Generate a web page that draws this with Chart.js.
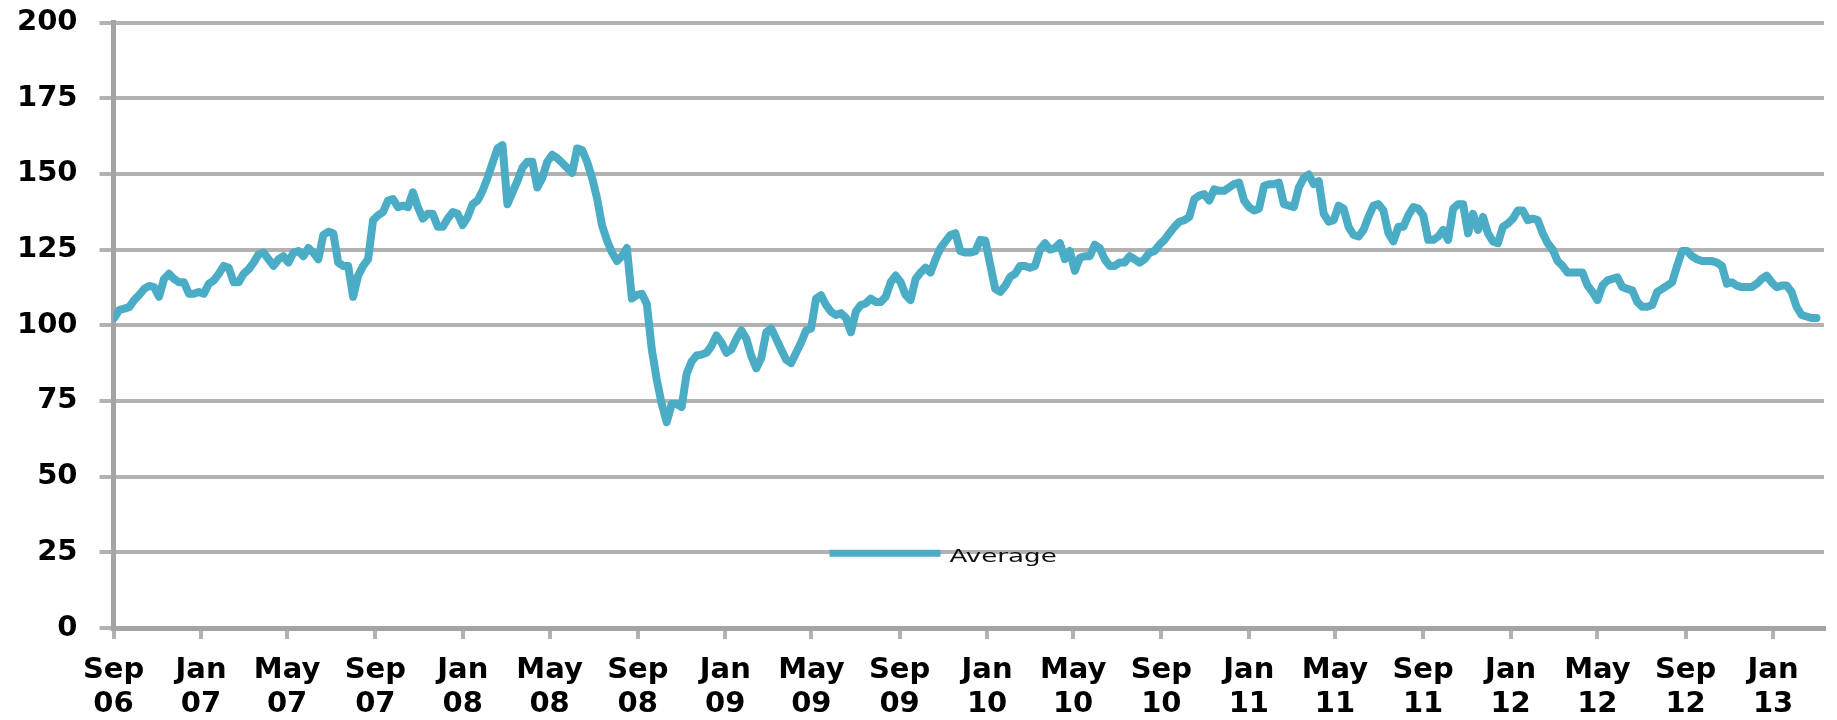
<!DOCTYPE html>
<html>
<head>
<meta charset="utf-8">
<script src="https://cdn.jsdelivr.net/npm/chart.js@4.4.1/dist/chart.umd.min.js"></script>
<style>
  html, body { margin: 0; padding: 0; background: #ffffff; }
  #wrap { width: 1837px; height: 720px; }
</style>
</head>
<body>
<div id="wrap"><canvas id="c" width="1837" height="720"></canvas></div>
<script>
// ---- Data (roughly one point per week) ----
const seriesName = 'Average';
const firstPointDate = '2006-09-02';   // first weekly observation
const daysPerPoint = 6.94;              // spacing of observations

const avgSep06toOct07 = [102.4,105,105.5,106,108.3,110,112,113,112.6,109.4,
  115.3,117,115.3,114.2,114.2,110.4,110.4,111,110.4,113.7,
  114.8,117,119.6,119,114.2,114.2,117,118.5,120.7,123.4,
  124,121.8,119.6,121.8,122.8,120.7,124,124.5,122.8,125.5,
  124,121.8,129.8,130.9,130.4,120.7,119.6,119.6,109.4,116.4,
  119.6,121.8,134.7,136.3,137.4,141.2,141.7,139,139.5];
const avgOct07toNov08 = [139,143.9,139,135.2,136.8,136.8,132.5,132.5,135.2,137.4,
  136.8,133.1,135.8,140,141.2,144.4,148.7,153.6,158.4,159.5,
  140,143.9,147.6,152,154,154,145.5,148.7,154,156.3,
  155.2,153.6,152,150.3,158.4,157.9,154,148.7,142,133,
  128,124,121.2,122.8,125.5,108.8,110,110.4,107,92,
  82,74,68,74,74,73,84,88];
const avgNov08toDec09 = [90,90.3,90.9,93.2,96.6,94.3,90.9,92,95.5,98.3,
  95.5,89.8,85.8,89.2,97.7,98.9,95.5,92,88.6,87.5,
  90.9,94.3,98.3,98.9,108.8,109.9,106.7,104.5,103.4,104,
  102.4,97.7,104.5,106.7,107.2,108.8,107.7,107.7,109.4,114.2,
  116.4,114.2,110,108.3,115.3,117.4,119,117.4,121.8,125.5,
  127.7,129.8,130.4,124.5,124,124,124.5,128.2];
const avgDec09toJan11 = [128,120,112,111,113,116,117,119.6,119.6,119,
  119.6,125,127.1,125,125.5,127.1,121.8,124.5,118,122.3,
  122.8,122.8,126.6,125.5,121.8,119.6,119.6,120.7,120.7,122.8,
  121.8,120.7,121.8,124,124.5,126.6,128.2,130.4,132.5,134.2,
  134.7,135.8,141.7,142.8,143.3,141.2,144.9,144.4,144.4,145.5,
  146.6,147.1,141.2,139,137.9,138.5,146,146.6];
const avgJan11toFeb12 = [146.6,147.1,140,139.5,139,145.5,148.7,149.8,146.6,147.6,
  136.8,134.2,134.7,139.5,138.5,132.5,129.8,129.3,131.5,135.8,
  139.5,140,137.9,130.4,127.7,132.5,132.5,136.3,139,138.5,
  136.3,128.2,128.2,129.3,131.5,128.2,138.5,140,140,130.4,
  136.8,131.5,135.8,130.4,127.7,127.1,132.5,133.6,135.2,137.9,
  137.9,134.7,135.2,134.7,130.4,127.1,125,121.2];
const avgFeb12toMar13 = [119.6,117.4,117.4,117.4,117.4,113.1,111,108.3,113.1,114.8,
  115.3,115.8,112.6,112,111.5,107.7,106.1,106.1,106.7,111,
  112,113.1,114.2,119.6,124.5,124.5,122.8,121.8,121.2,121.2,
  121.2,120.7,119.6,113.7,114.2,113.1,112.6,112.6,112.6,113.7,
  115.3,116.4,114.2,112.6,113.1,113.1,111,106.1,103.4,102.9,
  102.4,102.4];

// ---- Axis labels ----
const tickMonths = ['Sep','Jan','May','Sep','Jan','May','Sep','Jan','May','Sep',
                    'Jan','May','Sep','Jan','May','Sep','Jan','May','Sep','Jan'];
const tickYears  = ['06','07','07','07','08','08','08','09','09','09',
                    '10','10','10','11','11','11','12','12','12','13'];
const yMin = 0, yMax = 200, yStep = 25;
const axisStart = '2006-09-01';
const axisEnd = '2013-03-13';

// ---- Build ----
const DAY = 86400000;
const origin = Date.parse(axisStart + 'T00:00:00Z');
const dayOf = s => (Date.parse(s + 'T00:00:00Z') - origin) / DAY;
const monthIdx = {Jan:0,Feb:1,Mar:2,Apr:3,May:4,Jun:5,Jul:6,Aug:7,Sep:8,Oct:9,Nov:10,Dec:11};
const tickDays = tickMonths.map((m, i) =>
  (Date.UTC(2000 + parseInt(tickYears[i], 10), monthIdx[m], 1) - origin) / DAY);

const average = [].concat(avgSep06toOct07, avgOct07toNov08, avgNov08toDec09,
                          avgDec09toJan11, avgJan11toFeb12, avgFeb12toMar13);
const d0 = dayOf(firstPointDate);
const points = average.map((v, i) => ({ x: d0 + i * daysPerPoint, y: v }));

const LINE_COLOR = '#4BACC6';
const GRID_COLOR = '#b2b2b2';
const AXIS_COLOR = '#a4a4a4';
const xFont = { family: '"DejaVu Sans", sans-serif', size: 29, weight: 'bold', lineHeight: '34px' };
const yFont = { family: '"DejaVu Sans", sans-serif', size: 29, weight: 'bold', lineHeight: '1px' };

const insideLegend = {
  id: 'insideLegend',
  afterDraw(chart) {
    const { ctx, chartArea: a, scales } = chart;
    const y = scales.y.getPixelForValue(25);
    const w = a.right - a.left;
    const x0 = a.left + w * 0.4186;
    ctx.save();
    ctx.strokeStyle = LINE_COLOR;
    ctx.lineWidth = 7;
    ctx.lineCap = 'butt';
    ctx.beginPath();
    ctx.moveTo(x0, y + 1);
    ctx.lineTo(x0 + 111, y + 1);
    ctx.stroke();
    ctx.fillStyle = '#111';
    ctx.font = '18px "DejaVu Sans", sans-serif';
    ctx.textBaseline = 'alphabetic';
    ctx.translate(x0 + 120, y + 10);
    ctx.scale(1.45, 1);
    ctx.fillText(seriesName, 0, 0);
    ctx.restore();
  }
};

new Chart(document.getElementById('c'), {
  type: 'line',
  data: {
    datasets: [{
      label: seriesName,
      data: points,
      borderColor: LINE_COLOR,
      backgroundColor: LINE_COLOR,
      borderWidth: 8,
      pointRadius: 0,
      tension: 0,
      fill: false,
      borderJoinStyle: 'round',
      borderCapStyle: 'round'
    }]
  },
  options: {
    responsive: false,
    animation: false,
    events: [],
    layout: { padding: { left: -5, right: 13, top: 0, bottom: -15 } },
    plugins: { legend: { display: false }, tooltip: { enabled: false }, title: { display: false } },
    scales: {
      x: {
        type: 'linear',
        min: 0,
        max: dayOf(axisEnd),
        afterBuildTicks: axis => { axis.ticks = tickDays.map(v => ({ value: v })); },
        ticks: {
          autoSkip: false,
          maxRotation: 0,
          minRotation: 0,
          padding: 14,
          color: '#000',
          font: xFont,
          callback: (v, i) => [tickMonths[i], tickYears[i]]
        },
        grid: { drawOnChartArea: false, drawTicks: true, tickLength: 11, color: GRID_COLOR, lineWidth: 4 },
        border: { display: true, color: AXIS_COLOR, width: 5 }
      },
      y: {
        min: yMin,
        max: yMax,
        ticks: { stepSize: yStep, padding: 22, color: '#000', font: yFont },
        grid: { color: GRID_COLOR, lineWidth: 4, tickLength: 14 },
        border: { display: true, color: AXIS_COLOR, width: 5 }
      }
    }
  },
  plugins: [insideLegend]
});
</script>
</body>
</html>
